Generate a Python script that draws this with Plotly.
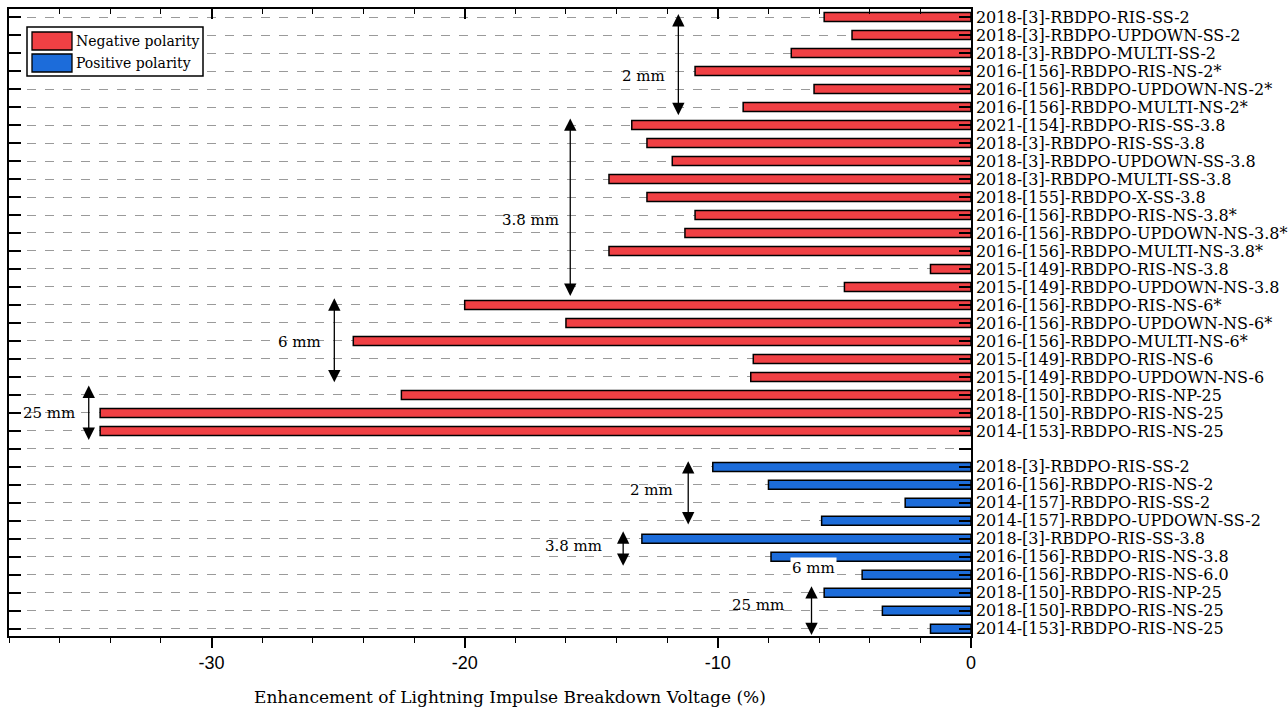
import plotly.graph_objects as go

# ---- data ----
neg_labels = [
    "2018-[3]-RBDPO-RIS-SS-2",
    "2018-[3]-RBDPO-UPDOWN-SS-2",
    "2018-[3]-RBDPO-MULTI-SS-2",
    "2016-[156]-RBDPO-RIS-NS-2*",
    "2016-[156]-RBDPO-UPDOWN-NS-2*",
    "2016-[156]-RBDPO-MULTI-NS-2*",
    "2021-[154]-RBDPO-RIS-SS-3.8",
    "2018-[3]-RBDPO-RIS-SS-3.8",
    "2018-[3]-RBDPO-UPDOWN-SS-3.8",
    "2018-[3]-RBDPO-MULTI-SS-3.8",
    "2018-[155]-RBDPO-X-SS-3.8",
    "2016-[156]-RBDPO-RIS-NS-3.8*",
    "2016-[156]-RBDPO-UPDOWN-NS-3.8*",
    "2016-[156]-RBDPO-MULTI-NS-3.8*",
    "2015-[149]-RBDPO-RIS-NS-3.8",
    "2015-[149]-RBDPO-UPDOWN-NS-3.8",
    "2016-[156]-RBDPO-RIS-NS-6*",
    "2016-[156]-RBDPO-UPDOWN-NS-6*",
    "2016-[156]-RBDPO-MULTI-NS-6*",
    "2015-[149]-RBDPO-RIS-NS-6",
    "2015-[149]-RBDPO-UPDOWN-NS-6",
    "2018-[150]-RBDPO-RIS-NP-25",
    "2018-[150]-RBDPO-RIS-NS-25",
    "2014-[153]-RBDPO-RIS-NS-25",
]
neg_values = [-5.8, -4.7, -7.1, -10.9, -6.2, -9.0, -13.4, -12.8, -11.8, -14.3,
              -12.8, -10.9, -11.3, -14.3, -1.6, -5.0, -20.0, -16.0, -24.4, -8.6,
              -8.7, -22.5, -34.4, -34.4]

pos_labels = [
    "2018-[3]-RBDPO-RIS-SS-2",
    "2016-[156]-RBDPO-RIS-NS-2",
    "2014-[157]-RBDPO-RIS-SS-2",
    "2014-[157]-RBDPO-UPDOWN-SS-2",
    "2018-[3]-RBDPO-RIS-SS-3.8",
    "2016-[156]-RBDPO-RIS-NS-3.8",
    "2016-[156]-RBDPO-RIS-NS-6.0",
    "2018-[150]-RBDPO-RIS-NP-25",
    "2018-[150]-RBDPO-RIS-NS-25",
    "2014-[153]-RBDPO-RIS-NS-25",
]
pos_values = [-10.2, -8.0, -2.6, -5.9, -13.0, -7.9, -4.3, -5.8, -3.5, -1.6]

x_tick_vals = [-30, -20, -10, 0]
series_names = ["Negative polarity", "Positive polarity"]
x_title = "Enhancement of Lightning Impulse Breakdown Voltage (%)"

# group annotations: (label, arrow x, arrow y start, arrow y end, label right-edge x, label y)
group_arrows = [
    ("2 mm", -11.56, -0.25, 5.45, -12.0, 3.3),
    ("3.8 mm", -15.83, 5.55, 15.5, -16.2, 11.3),
    ("6 mm", -25.15, 15.55, 20.3, -25.6, 18.05),
    ("25 mm", -34.85, 20.4, 23.5, -35.3, 22.0),
    ("2 mm", -11.17, 24.6, 28.2, -11.7, 26.3),
    ("3.8 mm", -13.74, 28.5, 30.5, -14.5, 29.4),
    ("25 mm", -6.3, 31.55, 34.35, -7.3, 32.7),
]
boxed_label = ("6 mm", -6.23, 30.6)

# ---- layout of rows ----
n_neg = len(neg_labels)
neg_rows = list(range(n_neg))
gap_row = n_neg
pos_rows = [gap_row + 1 + i for i in range(len(pos_labels))]
all_rows = neg_rows + [gap_row] + pos_rows
all_text = neg_labels + [""] + pos_labels

SERIF = "DejaVu Serif"
SANS = "Arial, Liberation Sans, sans-serif"
RED = "#F04044"
BLUE = "#1C6CDA"
colors = [RED, BLUE]

W, H = 1288, 713
ML, MR, MT, MB = 9, 317, 9, 77
PW, PH = W - ML - MR, H - MT - MB


def px(xp):
    return (xp - ML) / PW


def py(yp):
    return 1 - (yp - MT) / PH


fig = go.Figure()
fig.add_trace(go.Bar(
    x=neg_values, y=neg_rows, orientation="h", width=0.5,
    name=series_names[0], showlegend=False,
    marker=dict(color=RED, line=dict(color="black", width=1.5)),
))
fig.add_trace(go.Bar(
    x=pos_values, y=pos_rows, orientation="h", width=0.5,
    name=series_names[1], showlegend=False,
    marker=dict(color=BLUE, line=dict(color="black", width=1.5)),
))
# empty helper trace so that the mirrored top axis (ticks pointing inward) is drawn
fig.add_trace(go.Scatter(x=[], y=[], xaxis="x2", yaxis="y", showlegend=False,
                         hoverinfo="skip"))

annotations = []
for text, ax_x, y0, y1, lx, ly in group_arrows:
    annotations.append(dict(
        x=ax_x, y=y1, ax=ax_x, ay=y0, xref="x", yref="y", axref="x", ayref="y",
        text="", showarrow=True, arrowhead=2, arrowside="end+start",
        arrowsize=1.9, arrowwidth=1.3, arrowcolor="black",
    ))
    annotations.append(dict(
        x=lx, y=ly, xref="x", yref="y", text=text, showarrow=False,
        xanchor="right", yanchor="middle",
        font=dict(family=SERIF, size=15, color="black"),
    ))
annotations.append(dict(
    x=boxed_label[1], y=boxed_label[2], xref="x", yref="y", text=boxed_label[0],
    showarrow=False, xanchor="center", yanchor="middle", bgcolor="white",
    font=dict(family=SERIF, size=15, color="black"),
))
# x-axis title (slightly right of centre, as in the original)
annotations.append(dict(
    x=px(510), y=py(697), xref="paper", yref="paper", text=x_title,
    showarrow=False, xanchor="center", yanchor="middle",
    font=dict(family=SERIF, size=17, color="black"),
))

# custom legend (box with wide colour swatches)
shapes = [dict(type="rect", xref="paper", yref="paper",
               x0=px(27), x1=px(203), y0=py(76), y1=py(27),
               fillcolor="white", line=dict(color="black", width=1.5), layer="above")]
swatch_tops = [32, 54]
for name, col, top in zip(series_names, colors, swatch_tops):
    shapes.append(dict(type="rect", xref="paper", yref="paper",
                       x0=px(32), x1=px(72), y0=py(top + 18), y1=py(top),
                       fillcolor=col, line=dict(color="black", width=1.3), layer="above"))
    annotations.append(dict(x=px(74), y=py(top + 9), xref="paper", yref="paper",
                            text=name, showarrow=False, xanchor="left", yanchor="middle",
                            font=dict(family=SERIF, size=14, color="black")))

fig.update_layout(
    width=W, height=H,
    margin=dict(l=ML, r=MR, t=MT, b=MB, autoexpand=False),
    plot_bgcolor="white", paper_bgcolor="white",
    font=dict(family=SERIF, size=16, color="black"),
    barmode="overlay",
    showlegend=False,
    annotations=annotations,
    shapes=shapes,
    xaxis=dict(
        range=[-38, 0], tickvals=x_tick_vals, ticktext=[str(v) for v in x_tick_vals],
        ticks="outside", ticklen=10, tickwidth=1.5, tickcolor="black",
        minor=dict(dtick=2, ticks="outside", ticklen=5, tickwidth=1, tickcolor="black"),
        showline=True, linecolor="black", linewidth=1.5, mirror=False,
        showgrid=False, zeroline=False, automargin=False,
        tickfont=dict(family=SANS, size=18),
    ),
    xaxis2=dict(
        overlaying="x", anchor="y", side="top", range=[-38, 0],
        tickvals=x_tick_vals, showticklabels=False,
        ticks="inside", ticklen=10, tickwidth=1.5, tickcolor="black",
        minor=dict(dtick=2, ticks="inside", ticklen=5, tickwidth=1, tickcolor="black"),
        showline=True, linecolor="black", linewidth=1.5,
        showgrid=False, zeroline=False, automargin=False,
    ),
    yaxis=dict(
        range=[34.4, -0.45], tickmode="array", tickvals=all_rows, ticktext=all_text,
        side="right", ticks="inside", ticklen=12, tickwidth=1.5, tickcolor="black",
        showline=True, linecolor="black", linewidth=1.5, mirror="ticks",
        showgrid=True, gridcolor="#9a9a9a", gridwidth=1, griddash="dash",
        zeroline=False, automargin=False,
        tickfont=dict(family=SERIF, size=16),
    ),
)

fig.write_html("out.html")
